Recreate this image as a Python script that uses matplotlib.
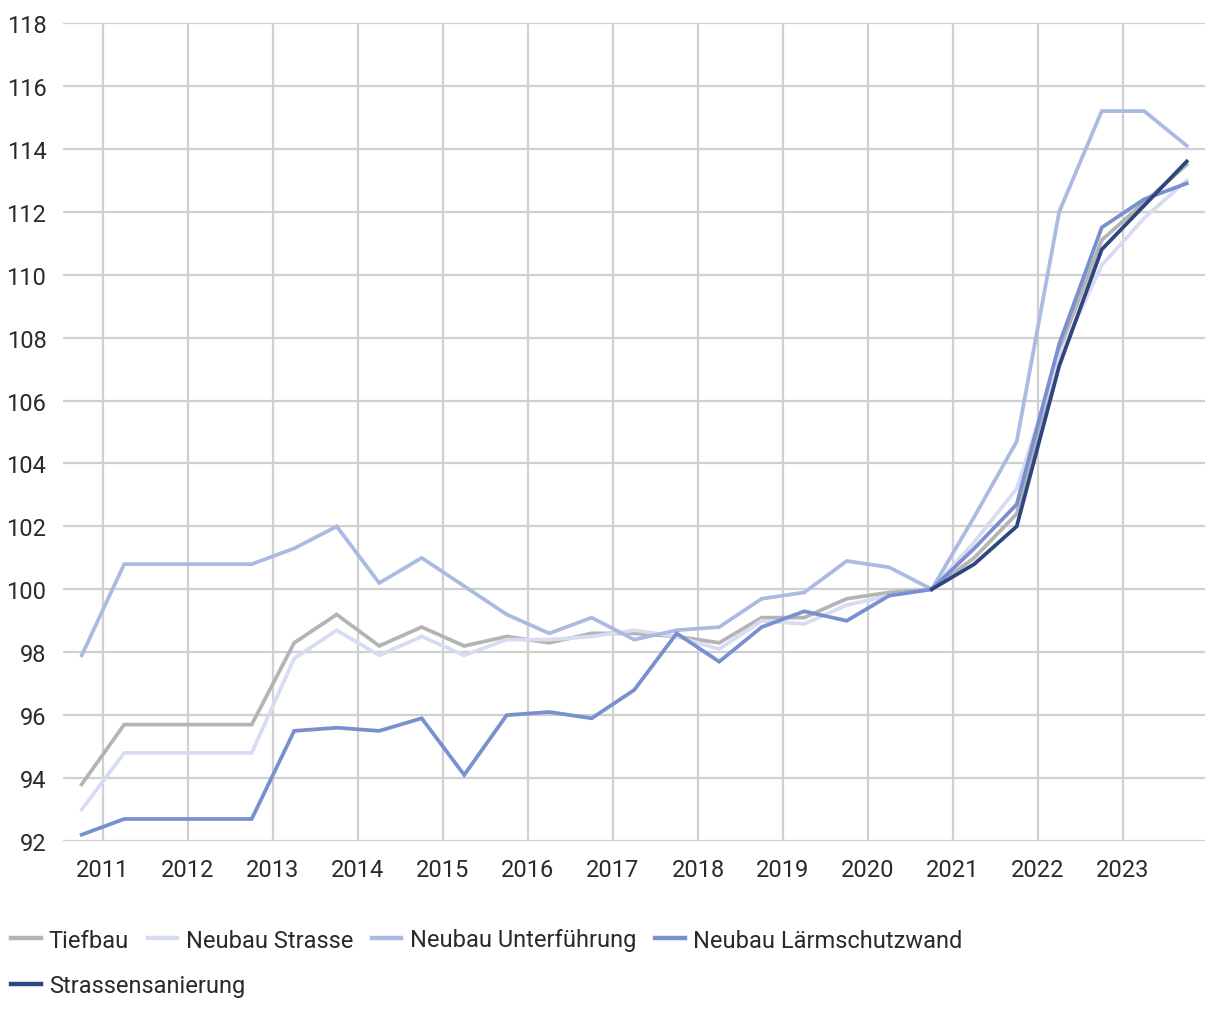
import numpy as np
import matplotlib
matplotlib.use("Agg")
import matplotlib.pyplot as plt
from matplotlib import rcParams

# ------------------------------------------------------------
# data (half-yearly index values, 2020-10 = 100)
# ------------------------------------------------------------
periods = [
    "2010-10", "2011-04", "2011-10", "2012-04", "2012-10", "2013-04", "2013-10",
    "2014-04", "2014-10", "2015-04", "2015-10", "2016-04", "2016-10", "2017-04",
    "2017-10", "2018-04", "2018-10", "2019-04", "2019-10", "2020-04", "2020-10",
    "2021-04", "2021-10", "2022-04", "2022-10", "2023-04", "2023-10",
]

tiefbau = [93.8, 95.7, 95.7, 95.7, 95.7, 98.3, 99.2, 98.2, 98.8, 98.2, 98.5, 98.3, 98.6, 98.6,
           98.5, 98.3, 99.1, 99.1, 99.7, 99.9, 100.0, 101.0, 102.4, 107.6, 111.1, 112.3, 113.5]
neubau_strasse = [93.0, 94.8, 94.8, 94.8, 94.8, 97.8, 98.7, 97.9, 98.5, 97.9, 98.4, 98.4, 98.5, 98.7,
                  98.5, 98.1, 99.0, 98.9, 99.5, 99.8, 100.0, 101.5, 103.2, 107.4, 110.3, 111.8, 113.0]
neubau_unterfuehrung = [97.9, 100.8, 100.8, 100.8, 100.8, 101.3, 102.0, 100.2, 101.0, 100.1, 99.2, 98.6,
                        99.1, 98.4, 98.7, 98.8, 99.7, 99.9, 100.9, 100.7, 100.0, 102.3, 104.7, 112.0,
                        115.2, 115.2, 114.1]
neubau_laermschutzwand = [92.2, 92.7, 92.7, 92.7, 92.7, 95.5, 95.6, 95.5, 95.9, 94.1, 96.0, 96.1, 95.9,
                          96.8, 98.6, 97.7, 98.8, 99.3, 99.0, 99.8, 100.0, 101.3, 102.7, 107.8, 111.5,
                          112.4, 112.9]
strassensanierung = [None] * 20 + [100.0, 100.8, 102.0, 107.1, 110.8, 112.2, 113.6]

series = [
    ("Tiefbau", tiefbau, "#b4b4b4"),
    ("Neubau Strasse", neubau_strasse, "#d6ddf2"),
    ("Neubau Unterführung", neubau_unterfuehrung, "#aabae2"),
    ("Neubau Lärmschutzwand", neubau_laermschutzwand, "#7a8fcf"),
    ("Strassensanierung", strassensanierung, "#2f4580"),
]

year_ticks = list(range(2011, 2024))

# ------------------------------------------------------------
# style
# ------------------------------------------------------------
rcParams["font.family"] = ["Roboto", "DejaVu Sans"]
rcParams["font.size"] = 17
text_color = "#2a2a2a"
grid_color = "#d0d0d0"


def to_year(p):
    y, m = p.split("-")
    return int(y) + (int(m) - 1) / 12


x = np.array([to_year(p) for p in periods])

fig = plt.figure(figsize=(12.2, 10.2), dpi=100)
ax = fig.add_axes([63 / 1220, 1 - 842 / 1020, (1205 - 63) / 1220, (842 - 24) / 1020])

lines = []
for name, values, color in series:
    y = np.array([np.nan if v is None else v for v in values], dtype=float)
    ln, = ax.plot(x, y, color=color, lw=2.7, label=name, solid_joinstyle="miter")
    lines.append(ln)

ax.set_xlim(2010.53, 2023.965)
ax.set_ylim(92, 118)
ax.set_yticks(np.arange(92, 119, 2))
ax.set_xticks(year_ticks)
ax.set_xticklabels([str(t) for t in year_ticks])

ax.grid(True, color=grid_color, lw=1.6)
ax.set_axisbelow(True)
for s in ax.spines.values():
    s.set_visible(False)
ax.tick_params(length=0, colors=text_color, labelsize=17)
ax.tick_params(axis="y", pad=12)
ax.tick_params(axis="x", pad=12)

# legend: flowing rows
leg_kw = dict(frameon=False, handlelength=1.25, handletextpad=0.35, columnspacing=0.8,
              borderpad=0, borderaxespad=0, fontsize=17, labelcolor=text_color)
leg1 = fig.legend(handles=lines[:4], ncol=4, loc="center left",
                  bbox_to_anchor=(11 / 1220, 1 - 941 / 1020), **leg_kw)
for h in leg1.legend_handles:
    h.set_linewidth(3.2)
leg2 = fig.legend(handles=lines[4:], ncol=1, loc="center left",
                  bbox_to_anchor=(11 / 1220, 1 - 987 / 1020), **leg_kw)
for h in leg2.legend_handles:
    h.set_linewidth(3.2)

fig.savefig("out.png", dpi=100)
